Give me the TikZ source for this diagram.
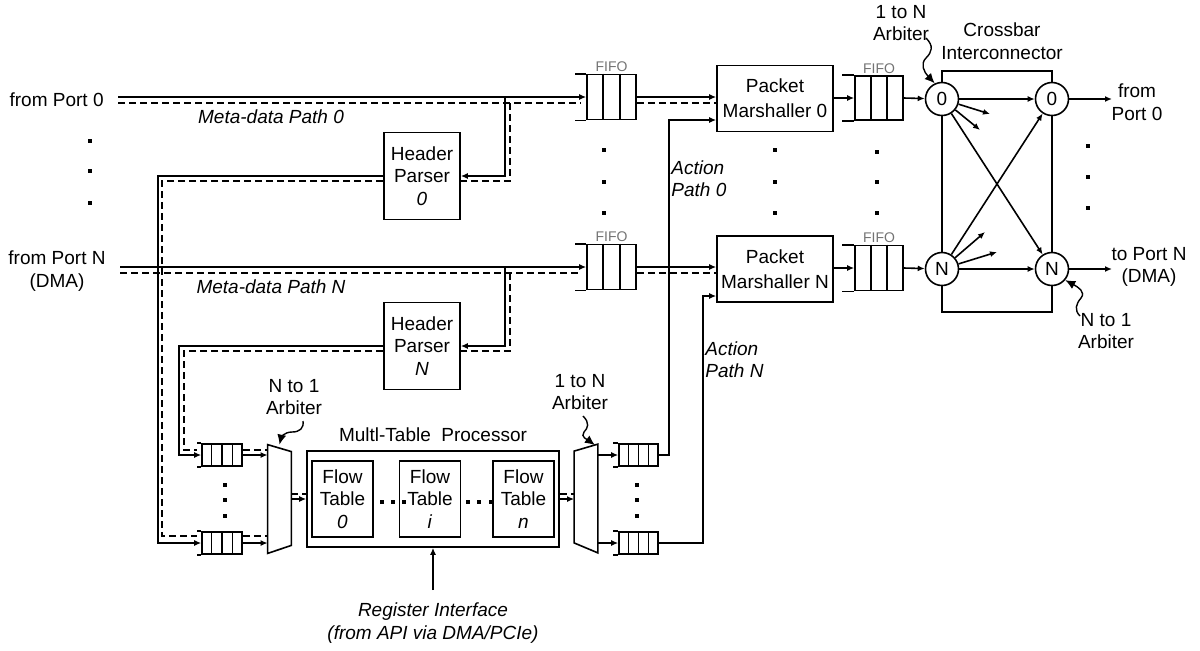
\documentclass[tikz,border=0pt]{standalone}
\usepackage{fontspec}
\setmainfont{Liberation Sans}
\usetikzlibrary{arrows.meta,calc,positioning}

\tikzset{
  pkt/.style={->,line width=0.8pt},
  meta/.style={line width=0.8pt,dash pattern=on 3.5pt off 2pt},
  wiggle/.style={-{Latex[length=5pt,width=4.5pt]},line width=0.7pt},
  lbl/.style={inner sep=0pt,align=center},
  pathlbl/.style={inner sep=0pt,font=\fontsize{9.5}{11.3}\selectfont\itshape},
  unit/.style={draw,line width=0.8pt,inner sep=1pt,align=center,fill=white},
  hdr/.style={unit,minimum width=38pt,minimum height=43.5pt},
  pmbox/.style={unit,minimum width=58pt,minimum height=33pt,font=\fontsize{9.5}{12.5}\selectfont},
  ftbl/.style={unit,minimum width=30.5pt,minimum height=38pt},
  mtpbox/.style={unit,minimum width=126pt,minimum height=48pt},
  xbox/.style={draw,line width=0.8pt,minimum width=55pt,minimum height=120.5pt,inner sep=0pt},
  xnode/.style={draw,circle,line width=0.8pt,fill=white,minimum size=16.5pt,inner sep=0pt},
  mux/.style={minimum width=11.5pt,minimum height=54pt,inner sep=0pt},
  qbody/.style={draw,line width=0.8pt,fill=white,inner sep=0pt},
  qline/.style={line width=0.8pt},
  qlbl/.style={anchor=south,inner sep=0.8pt,text=black!55,font=\fontsize{7}{8}\selectfont},
}

% queue: name, position, cells, width, height, open end (px)
\newcommand{\qbuf}[6]{%
  \node[qbody,minimum width=#4,minimum height=#5] (#1) at (#2) {};
  \pgfmathtruncatemacro{\qlast}{#3-1}%
  \foreach \k in {1,...,\qlast}
    \draw[qline] ($(#1.north west)!\k/#3!(#1.north east)$) -- ($(#1.south west)!\k/#3!(#1.south east)$);
  \draw[qline] (#1.north west) -- ++(-#6,0) (#1.south west) -- ++(-#6,0);
}

\begin{document}
\begin{tikzpicture}[x=0.5pt,y=-0.5pt,>={Latex[length=3.5pt,width=3pt]},font=\fontsize{9.5}{11.3}\selectfont]
  \useasboundingbox (0,0) rectangle (1200,650);

  \node[hdr] (hp0) at (422,176) {Header\\Parser\\\textit{0}};
  \node[hdr] (hpN) at (422,346) {Header\\Parser\\\textit{N}};
  \node[pmbox] (pm0) at (775,98.5) {Packet\\Marshaller 0};
  \node[pmbox] (pmN) at (775,269) {Packet\\Marshaller N};
  \node[mtpbox] (mtp) at (433,499) {};
  \node[ftbl] (ft0) at (342.5,499) {Flow\\Table\\\textit{0}};
  \node[ftbl] (fti) at (430,499) {Flow\\Table\\\textit{i}};
  \node[ftbl] (ftn) at (523.5,499) {Flow\\Table\\\textit{n}};
  \node[mux] (arbN) at (279.5,499) {};
  \node[mux] (arb1) at (586,498.5) {};
  \draw[qline] (arbN.north west) -- ($(arbN.north east)+(0,7)$) -- ($(arbN.south east)+(0,-8)$) -- (arbN.south west) -- cycle;
  \draw[qline] ($(arb1.north west)+(0,7)$) -- (arb1.north east) -- (arb1.south east) -- ($(arb1.south west)+(0,-10)$) -- cycle;

  \node[xbox] (xbar) at (997,191.5) {};
  \node[xnode] (x0l) at (942,99) {0};
  \node[xnode] (x0r) at (1052,99) {0};
  \node[xnode] (xNl) at (942,269) {N};
  \node[xnode] (xNr) at (1052,269) {N};

  \qbuf{f0}{611.5,97}{3}{24.5pt}{22.5pt}{11}
  \qbuf{fN}{611.5,267}{3}{24.5pt}{22.5pt}{11}
  \qbuf{r0}{879,98}{3}{24pt}{22pt}{12}
  \qbuf{rN}{879,268}{3}{24pt}{22.5pt}{12}
  \qbuf{bl1}{222,455}{4}{20pt}{11pt}{4}
  \qbuf{bl2}{222,543}{4}{20pt}{11pt}{4}
  \qbuf{br1}{638.5,455}{4}{19.5pt}{11pt}{5}
  \qbuf{br2}{638.5,543}{4}{19.5pt}{11pt}{5}
  \foreach \q in {f0,fN,r0,rN}
    \node[qlbl] (\q-lbl) at (\q.north) {FIFO};

  \coordinate (in0) at (118,97);
  \coordinate (inN) at (120,267);
  \coordinate (br0) at (505,97);
  \coordinate (brN) at (505,267);
  \coordinate (act0) at (669,120);
  \coordinate (actN) at (703,296);
  \coordinate (regsrc) at (433,590);
  \coordinate (out0) at (1112,99);
  \coordinate (outN) at (1112,269);

  \draw[pkt] (in0) -- (in0 -| f0.west);
  \draw[meta] ($(in0)+(0,6)$) -- ($(in0 -| f0.west)+(-5,6)$);
  \draw[pkt] (br0) |- (hp0.east);
  \draw[meta] ($(br0)+(5,6)$) |- ($(hp0.east)+(0,5)$);
  \draw[pkt] (inN) -- (inN -| fN.west);
  \draw[meta] ($(inN)+(0,6)$) -- ($(inN -| fN.west)+(-5,6)$);
  \draw[pkt] (brN) |- (hpN.east);
  \draw[meta] ($(brN)+(5,6)$) |- ($(hpN.east)+(0,5)$);

  \draw[pkt] (hp0.west) -| ($(bl2.west)+(-43,0)$) -- (bl2.west);
  \draw[meta] ($(hp0.west)+(0,5)$) -| ($(bl2.west)+(-39,-7)$) -- ($(bl2.west)+(-4,-7)$);
  \draw[pkt] (hpN.west) -| ($(bl1.west)+(-22,0)$) -- (bl1.west);
  \draw[meta] ($(hpN.west)+(0,5)$) -| ($(bl1.west)+(-17,-5)$) -- ($(bl1.west)+(-4,-5)$);

  \draw[pkt] (bl1.east) -- (bl1.east -| arbN.west);
  \draw[meta] ($(bl1.east)+(0,-5)$) -- ($(bl1.east -| arbN.west)+(0,-5)$);
  \draw[pkt] (bl2.east) -- (bl2.east -| arbN.west);
  \draw[meta] ($(bl2.east)+(0,-7)$) -- ($(bl2.east -| arbN.west)+(0,-7)$);
  \draw[pkt] (arbN.east |- mtp.west) -- (mtp.west);
  \draw[meta] ($(arbN.east |- mtp.west)+(0,-5)$) -- ($(mtp.west)+(0,-5)$);
  \draw[pkt] (mtp.east) -- (mtp.east -| arb1.west);
  \draw[meta] ($(mtp.east)+(0,-5)$) -- ($(mtp.east -| arb1.west)+(0,-5)$);
  \draw[pkt] (br1.west -| arb1.east) -- (br1.west);
  \draw[pkt] (br2.west -| arb1.east) -- (br2.west);
  \draw[pkt] (br1.east) -| (act0) -- (act0 -| pm0.west);
  \draw[pkt] (br2.east) -| (actN) -- (actN -| pmN.west);
  \draw[pkt] (regsrc) -- (mtp.south);

  \draw[pkt] (f0.east) -- (f0.east -| pm0.west);
  \draw[meta] ($(f0.east)+(0,6)$) -- ($(f0.east -| pm0.west)+(0,6)$);
  \draw[pkt] (fN.east) -- (fN.east -| pmN.west);
  \draw[meta] ($(fN.east)+(0,6)$) -- ($(fN.east -| pmN.west)+(0,6)$);
  \draw[pkt] (pm0.east |- r0.west) -- (r0.west);
  \draw[pkt] (pmN.east |- rN.west) -- (rN.west);
  \draw[pkt] (r0.east) -- (x0l);
  \draw[pkt] (rN.east) -- (xNl);

  \coordinate (s0a) at (990,114);
  \coordinate (s0b) at (980,130);
  \coordinate (sNa) at (985,232);
  \coordinate (sNb) at (997,252);
  \draw[pkt] (x0l) -- (x0r);
  \draw[pkt] (x0l) -- (xNr);
  \draw[pkt] (xNl) -- (x0r);
  \draw[pkt] (xNl) -- (xNr);
  \draw[pkt] (x0l) -- (s0a);
  \draw[pkt] (x0l) -- (s0b);
  \draw[pkt] (xNl) -- (sNa);
  \draw[pkt] (xNl) -- (sNb);
  \draw[pkt] (x0r) -- (out0);
  \draw[pkt] (xNr) -- (outN);

  \foreach \x/\y in {90/141,90/171,90/203,604/150,604/182,604/213,775/150,775/182,775/213,877/152,877/182,877/213,1088/146,1088/177,1088/208}
    \fill (\x-2.2,\y-2.2) rectangle (\x+2.2,\y+2.2);
  \foreach \x/\y in {225/485,225/500,225/516,637/485,637/500,637/516,382/502,393/502,404/502,468/502,479/502,491/502}
    \fill (\x-1.7,\y-1.7) rectangle (\x+1.7,\y+1.7);

  \node[lbl,anchor=east] (t-in0) at (104,100) {from Port 0};
  \node[lbl] (t-inN) at (57,271) {from Port N\\(DMA)};
  \node[lbl] (t-out0) at (1137,102) {from\\Port 0};
  \node[lbl] (t-outN) at (1149,267) {to Port N\\(DMA)};
  \node[lbl] (t-xbar) at (1002,41) {Crossbar\\Interconnector};
  \node[lbl] (t-arbx0) at (901,23) {1 to N\\Arbiter};
  \node[lbl] (t-arbxN) at (1106,331) {N to 1\\Arbiter};
  \node[lbl] (t-arbN) at (294,397) {N to 1\\Arbiter};
  \node[lbl] (t-arb1) at (580,392) {1 to N\\Arbiter};
  \node[lbl] (t-mtp) at (433,435) {Multl-Table~~Processor};
  \node[pathlbl] (t-meta0) at (271,117) {Meta-data Path 0};
  \node[pathlbl] (t-metaN) at (271,287) {Meta-data Path N};
  \node[pathlbl,anchor=west,align=left] (t-act0) at (671,178.5) {Action\\Path 0};
  \node[pathlbl,anchor=west,align=left] (t-actN) at (705,359.5) {Action\\Path N};
  \node[pathlbl,align=center] (t-reg) at (433,623) {Register Interface\\(from API via DMA/PCIe)};

  \coordinate (w0) at (926,38);
  \coordinate (wN) at (1080,316);
  \coordinate (wa) at (303,421);
  \coordinate (wb) at (583,416);
  \draw[wiggle] (w0) .. controls (934,46) and (932,52) .. (926,58) .. controls (920,64) and (924,72) .. (x0l.115);
  \draw[wiggle] (wN) .. controls (1074,310) and (1076,304) .. (1081,298) .. controls (1086,292) and (1078,287) .. (xNr.-40);
  \draw[wiggle] (wa) .. controls (304,428) and (300,432) .. (292,432) .. controls (284,432) and (281,438) .. (arbN.north);
  \draw[wiggle] (wb) .. controls (590,423) and (588,428) .. (584,432) .. controls (580,437) and (588,440) .. ($(arb1.north east)+(-3,1)$);
\end{tikzpicture}
\end{document}
